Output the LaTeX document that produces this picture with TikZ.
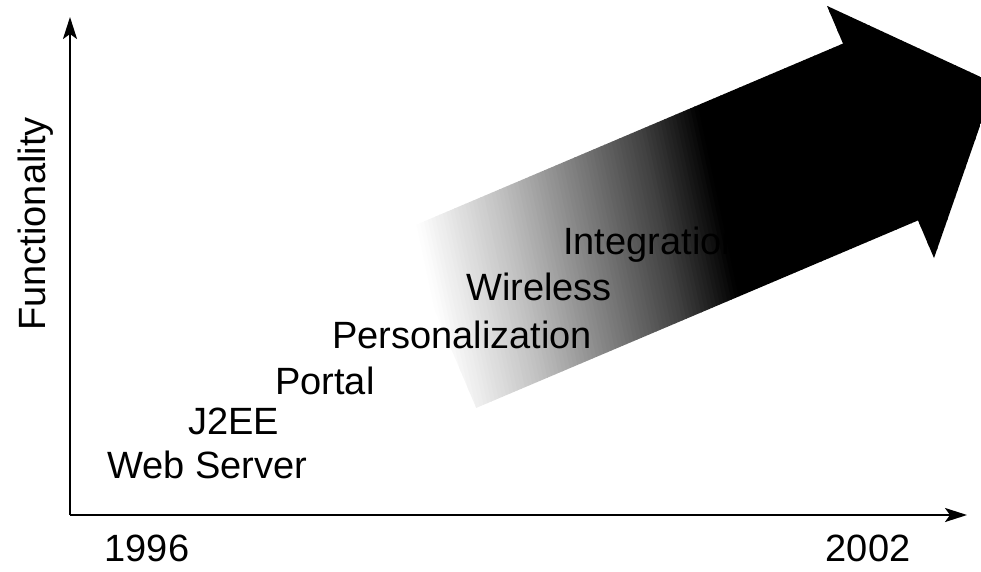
\documentclass[tikz,border=0pt]{standalone}
\usepackage{fontspec}
\setmainfont{Liberation Sans}
\usetikzlibrary{arrows.meta}
\begin{document}
\begin{tikzpicture}[x=1pt,y=-1pt,
  lbl/.style={anchor=base west, inner sep=0pt, font=\fontsize{38}{40}\selectfont},
  axis/.style={line width=2.2pt, -{Stealth[length=22pt,width=14pt,inset=5pt]}}]
\useasboundingbox (0,0) rectangle (981,571);
% big shaded arrow
\begin{scope}
\clip (0,0) rectangle (981,571);
\clip (401.2,231.1) -- (843.0,43.6) -- (827.0,5.9) -- (994.7,83.5) -- (934.0,258.1) -- (918.0,220.4) -- (476.2,407.9) -- cycle;
\begin{scope}[shift={(400,300)}, x={(0.978pt,0.208pt)}, y={(0.208pt,-0.978pt)}]
  \foreach \i in {0,...,155} {
    \pgfmathsetmacro{\s}{\i*4}
    \pgfmathsetmacro{\dk}{\s<30 ? 0 : (\s<120 ? (\s-30)/90*25 : (\s<270 ? 25+(\s-120)/150*50 : (\s<330 ? 75+(\s-270)/60*25 : 100)))}
    \fill[black!\dk] (\s,-400) -- (\s+4.6,-400) -- (\s+4.6,400) -- (\s,400) -- cycle;
  }
\end{scope}
\end{scope}
% axes
\coordinate (o) at (70,515);
\coordinate (ytip) at (70,17);
\coordinate (xtip) at (967,515);
\draw[axis] (o) -- (ytip);
\draw[axis] (o) -- (xtip);
\node[font=\fontsize{38}{40}\selectfont, rotate=90] (func) at (36,224) {Functionality};
\node[font=\fontsize{38}{40}\selectfont] (y1) at (147,548) {1996};
\node[font=\fontsize{38}{40}\selectfont] (y2) at (868,548) {2002};
\node[lbl] (ws) at (107,478) {Web Server};
\node[lbl] (j2ee) at (188,434) {J2EE};
\node[lbl] (portal) at (275,394) {Portal};
\node[lbl] (pers) at (332,348) {Personalization};
\node[lbl] (wire) at (466,300) {Wireless};
\node[lbl] (integ) at (563,254) {Integration};
\end{tikzpicture}
\end{document}
